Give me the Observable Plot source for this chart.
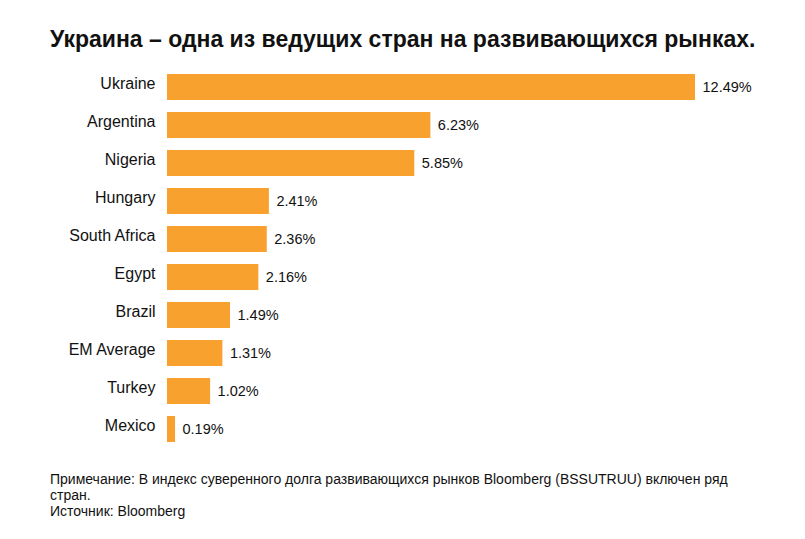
<!DOCTYPE html>
<html>
<head>
<meta charset="utf-8">
<script src="https://cdn.jsdelivr.net/npm/d3@7"></script>
<script src="https://cdn.jsdelivr.net/npm/@observablehq/plot@0.6"></script>
<style>
  html, body { margin: 0; padding: 0; background: #fff; overflow: hidden; }
  body { font-family: "Liberation Sans", Arial, Helvetica, sans-serif; color: #111; width: 805px; height: 539px; position: relative; }
  #title { position: absolute; left: 50px; top: 24px; font-size: 23px; font-weight: bold; line-height: 30px; white-space: nowrap; }
  #chart { position: absolute; left: 0; top: 54px; }
  #foot { position: absolute; left: 50px; top: 471px; font-size: 14px; line-height: 16px; color: #111; }
</style>
</head>
<body>
<div id="title">Украина – одна из ведущих стран на развивающихся рынках.</div>
<div id="chart"></div>
<div id="foot">Примечание: В индекс суверенного долга развивающихся рынков Bloomberg (BSSUTRUU) включен ряд<br>стран.<br>Источник: Bloomberg</div>
<script>
const countries = ["Ukraine", "Argentina", "Nigeria", "Hungary", "South Africa", "Egypt", "Brazil", "EM Average", "Turkey", "Mexico"];
const values = [12.49, 6.23, 5.85, 2.41, 2.36, 2.16, 1.49, 1.31, 1.02, 0.19];

const data = countries.map((c, i) => ({country: c, value: values[i]}));

const chart = Plot.plot({
  width: 805,
  height: 407,
  marginLeft: 167,
  marginRight: 110,
  marginTop: 5,
  marginBottom: 5,
  style: {fontFamily: "'Liberation Sans', Arial, Helvetica, sans-serif", background: "transparent"},
  x: {domain: [0, 12.49], axis: null},
  y: {domain: countries, padding: 0.32, axis: null},
  marks: [
    Plot.barX(data, {x: "value", y: "country", fill: "#F9A12E"}),
    Plot.text(data, {x: 0, y: "country", text: "country", textAnchor: "end", dx: -12, dy: -4, fontSize: 16, fill: "#111"}),
    Plot.text(data, {x: "value", y: "country", text: d => d.value.toFixed(2) + "%", textAnchor: "start", dx: 7, dy: 0, fontSize: 14.5, fill: "#111"})
  ]
});
document.getElementById("chart").appendChild(chart);
</script>
</body>
</html>
